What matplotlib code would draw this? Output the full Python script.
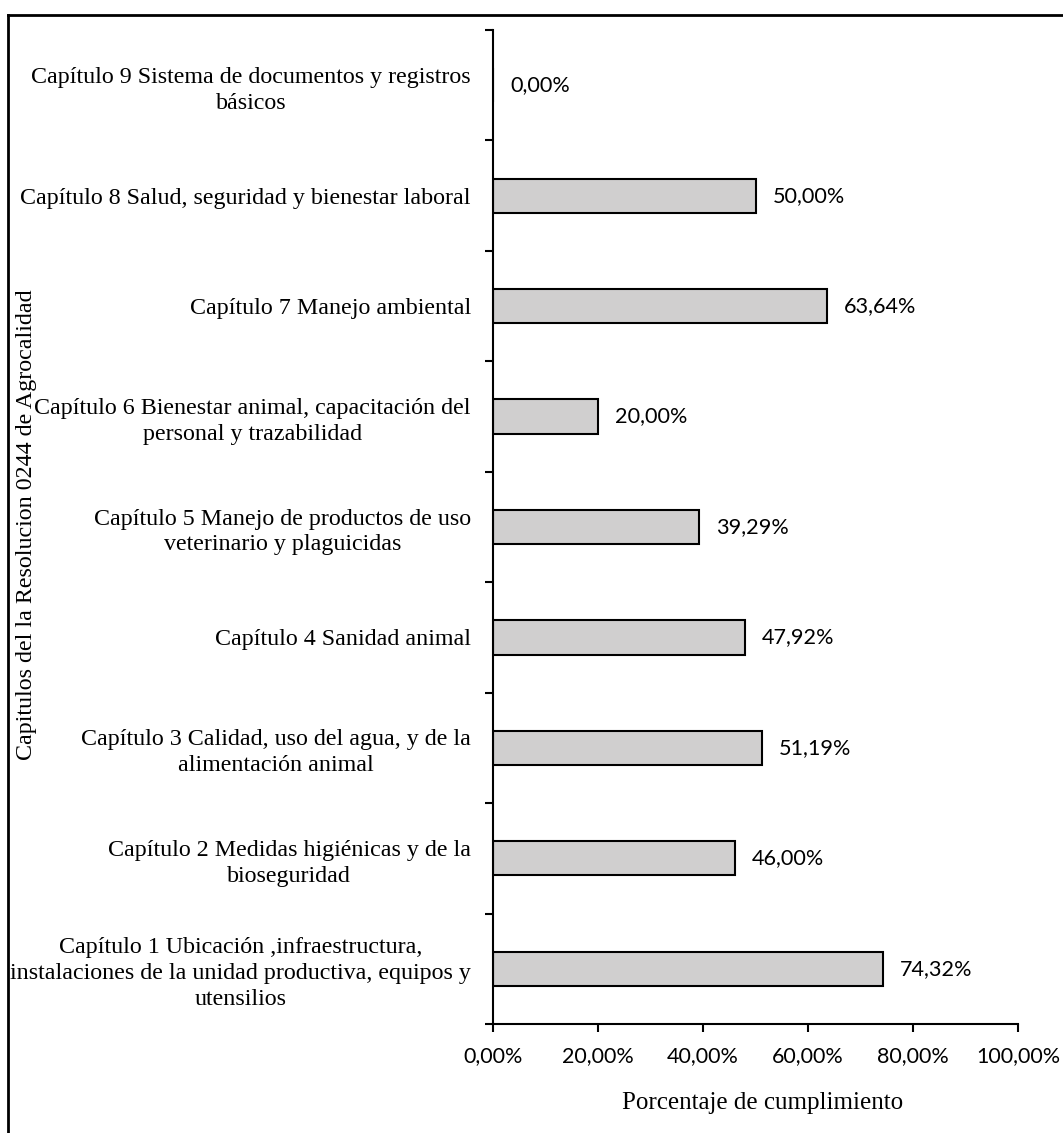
import matplotlib.pyplot as plt
from matplotlib.lines import Line2D

# chapters, bottom to top
capitulos = [
    "Capítulo 1 Ubicación ,infraestructura,\ninstalaciones de la unidad productiva, equipos y\nutensilios",
    "Capítulo 2 Medidas higiénicas y de la\nbioseguridad",
    "Capítulo 3 Calidad, uso del agua, y de la\nalimentación animal",
    "Capítulo 4 Sanidad animal",
    "Capítulo 5 Manejo de productos de uso\nveterinario y plaguicidas",
    "Capítulo 6 Bienestar animal, capacitación del\npersonal y trazabilidad",
    "Capítulo 7 Manejo ambiental",
    "Capítulo 8 Salud, seguridad y bienestar laboral",
    "Capítulo 9 Sistema de documentos y registros\nbásicos",
]
cumplimiento = [74.32, 46.00, 51.19, 47.92, 39.29, 20.00, 63.64, 50.00, 0.00]
xticks = [0, 20, 40, 60, 80, 100]

serif = "Liberation Serif"
sans = "Lato"

fig = plt.figure(figsize=(10.63, 11.33), dpi=100)
ax = fig.add_axes([493/1063, 1 - 1024/1133, 525/1063, 994/1133])

pos = list(range(len(capitulos)))
ax.barh(pos, cumplimiento, height=0.31, color="#d0cfcf", edgecolor="black", linewidth=1.5)

# data labels
for y, v in zip(pos, cumplimiento):
    ax.annotate(f"{v:.2f}%".replace(".", ","), (v, y), xytext=(17, 0),
                textcoords="offset pixels", va="center", ha="left",
                fontsize=15.6, family=sans)

ax.set_xlim(0, 100)
ax.set_ylim(-0.5, len(capitulos) - 0.5)
ax.set_xticks(xticks)
ax.set_xticklabels([f"{t:.2f}%".replace(".", ",") for t in xticks], fontsize=15.5, family=sans)

# ticks between categories, labels at the centers (excel style)
ax.set_yticks([p - 0.5 for p in pos] + [len(capitulos) - 0.5])
ax.set_yticklabels([])
ax.set_yticks(pos, minor=True)
ax.set_yticklabels(capitulos, minor=True, fontsize=17.3, family=serif,
                   multialignment="center", linespacing=1.3)
ax.tick_params(axis="y", which="minor", length=0, pad=16)
ax.tick_params(axis="y", which="major", length=6, width=1.5, direction="out")
ax.tick_params(axis="x", length=6, width=1.5, direction="out", pad=10)

for s in ["top", "right"]:
    ax.spines[s].set_visible(False)
for s in ["left", "bottom"]:
    ax.spines[s].set_linewidth(1.5)

ax.set_xlabel("Porcentaje de cumplimiento", fontsize=18, family=serif)
ax.xaxis.set_label_coords(0.514, -0.0795)
ax.xaxis.label.set_va("center")
fig.text(27/1063, 1 - 525/1133, "Capitulos del la Resolucion 0244 de Agrocalidad",
         rotation=90, fontsize=17.3, family=serif, ha="center", va="center")

# outer frame (top and left only visible)
fig.add_artist(Line2D([8/1063, 1], [1 - 15/1133, 1 - 15/1133], color="black", lw=2,
                      transform=fig.transFigure))
fig.add_artist(Line2D([8/1063, 8/1063], [0, 1 - 15/1133], color="black", lw=2,
                      transform=fig.transFigure))

fig.savefig("out.png", dpi=100)
